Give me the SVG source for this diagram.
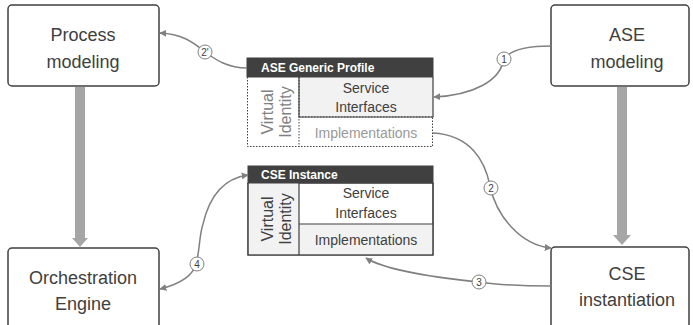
<svg xmlns="http://www.w3.org/2000/svg" width="693" height="325" viewBox="0 0 693 325">
<defs>
<style>
.box{fill:#fff;stroke:#404040;stroke-width:1.5}
.big{font-family:"Liberation Sans",Arial,sans-serif;font-size:18px;fill:#404040;text-anchor:middle}
.hdr{fill:#404040;stroke:#404040;stroke-width:1}
.htxt{font-family:"Liberation Sans",Arial,sans-serif;font-size:12px;font-weight:bold;fill:#fff}
.cell{font-family:"Liberation Sans",Arial,sans-serif;font-size:14px;fill:#404040;text-anchor:middle}
.vid{font-family:"Liberation Sans",Arial,sans-serif;font-size:16px;fill:#404040;text-anchor:middle}
.dot{stroke:#404040;stroke-width:1;stroke-dasharray:1.5 1.5}
.solid{stroke:#404040;stroke-width:1.2}
.con{fill:none;stroke:#808080;stroke-width:1.5}
.num circle{fill:#fff;stroke:#808080;stroke-width:1}
.num text{font-family:"Liberation Sans",Arial,sans-serif;font-size:10px;fill:#404040;text-anchor:middle}
.thick{fill:#a6a6a6}
</style>
<marker id="ah" viewBox="0 0 10 10" refX="9" refY="5" markerWidth="7" markerHeight="7" markerUnits="userSpaceOnUse" orient="auto-start-reverse">
<path d="M0,0 L10,5 L0,10 Z" fill="#808080"/>
</marker>
</defs>

<g id="thick-arrows">
<path class="thick" d="M75,87 H85 V238 H88 L80,247 L72,238 H75 Z"/>
<path class="thick" d="M617,87 H627 V235 H631 L622,245 L613,235 H617 Z"/>
</g>

<g id="process-modeling">
<rect class="box" x="8" y="5" width="151" height="81" rx="4"/>
<text class="big" x="83" y="41">Process</text>
<text class="big" x="83" y="68">modeling</text>
</g>

<g id="ase-modeling">
<rect class="box" x="551" y="5" width="138" height="81" rx="4"/>
<text class="big" x="627" y="41">ASE</text>
<text class="big" x="627" y="68">modeling</text>
</g>

<g id="orchestration-engine">
<rect class="box" x="8" y="248" width="151" height="90" rx="4"/>
<text class="big" x="83" y="284">Orchestration</text>
<text class="big" x="83" y="310">Engine</text>
</g>

<g id="cse-instantiation">
<rect class="box" x="551" y="247" width="138" height="90" rx="4"/>
<text class="big" x="627" y="280">CSE</text>
<text class="big" x="627" y="306">instantiation</text>
</g>

<g id="ase-generic-profile">
<rect x="247" y="77" width="52" height="70" fill="#fff"/>
<rect x="299" y="77" width="134" height="40" fill="#f2f2f2"/>
<rect x="299" y="117" width="134" height="30" fill="#fff"/>
<rect class="hdr" x="247" y="58" width="186" height="19"/>
<text class="htxt" x="261" y="72">ASE Generic Profile</text>
<path class="dot" fill="none" d="M247.5,77 V146.5 H432.5 V117 M299,77 V147 M299,117 H433"/>
<path class="solid" fill="none" d="M299,77 V117 H433 V77"/>
<text class="cell" x="366" y="93">Service</text>
<text class="cell" x="366" y="112">Interfaces</text>
<text class="cell" x="366" y="138" style="fill:#999">Implementations</text>
<text class="vid" style="fill:#808080" transform="translate(273,112) rotate(-90)">Virtual</text>
<text class="vid" style="fill:#808080" transform="translate(291,112) rotate(-90)">Identity</text>
</g>

<g id="cse-instance">
<rect class="box" x="248" y="183" width="185" height="72" style="stroke-width:1.2"/>
<rect x="248.6" y="183" width="50.4" height="71.4" fill="#f2f2f2"/>
<rect x="299" y="224" width="133.4" height="30.4" fill="#f2f2f2"/>
<rect class="hdr" x="248" y="166" width="185" height="17"/>
<text class="htxt" x="261" y="179">CSE Instance</text>
<path class="solid" fill="none" d="M299,183 V255 M299,224 H433 M248,183 V255 H433 V183"/>
<text class="cell" x="366" y="198">Service</text>
<text class="cell" x="366" y="218">Interfaces</text>
<text class="cell" x="366" y="245">Implementations</text>
<text class="vid" transform="translate(273,219) rotate(-90)">Virtual</text>
<text class="vid" transform="translate(291,219) rotate(-90)">Identity</text>
</g>

<g id="connectors">
<path class="con" marker-end="url(#ah)" d="M551,46 C520,46 506,53 503,62 C499,80 475,95 434,97"/>
<path class="con" marker-end="url(#ah)" d="M247,68 C228,68 216,60 205,52 C192,41 181,34 160,33"/>
<path class="con" marker-end="url(#ah)" d="M433,133 C470,135 485,160 490,186 C496,215 520,245 551,248"/>
<path class="con" marker-end="url(#ah)" d="M551,286 C520,286 500,285 479,282 C430,277 385,270 366,258"/>
<path class="con" marker-start="url(#ah)" marker-end="url(#ah)" d="M160,289 C180,284 193,275 196,264 C200,250 199,236 203,224 C210,194 226,178 248,175"/>
<g class="num">
<circle cx="504" cy="59" r="7"/><text x="504" y="62.5">1</text>
<circle cx="205" cy="52" r="7"/><text x="205" y="55.5">2'</text>
<circle cx="491" cy="188" r="7"/><text x="491" y="191.5">2</text>
<circle cx="479" cy="282" r="7"/><text x="479" y="285.5">3</text>
<circle cx="197" cy="264" r="7"/><text x="197" y="267.5">4</text>
</g>
</g>
</svg>
